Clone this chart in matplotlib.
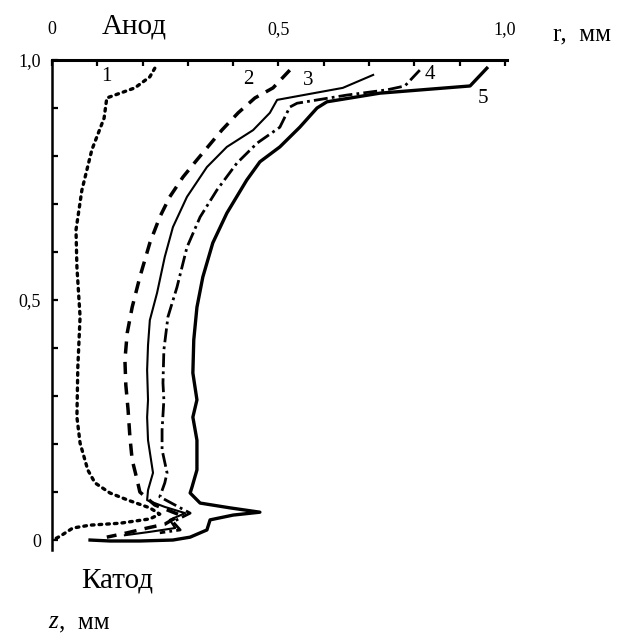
import numpy as np
import matplotlib.pyplot as plt
from matplotlib.ticker import MultipleLocator, FixedLocator

plt.rcParams['font.family'] = ['Liberation Serif', 'DejaVu Serif']

# профили радиуса канала r(z), мм (1..5)
r1 = [0.227, 0.216, 0.183, 0.121, 0.115, 0.088, 0.066, 0.053, 0.055, 0.062, 0.057, 0.055,
      0.062, 0.079, 0.095, 0.128, 0.168, 0.216, 0.238, 0.216, 0.150, 0.084, 0.046, 0.018, 0.002]
z1 = [0.983, 0.965, 0.942, 0.921, 0.879, 0.813, 0.729, 0.646, 0.569, 0.465, 0.360, 0.256,
      0.202, 0.146, 0.119, 0.098, 0.083, 0.067, 0.054, 0.044, 0.035, 0.031, 0.025, 0.008, 0.0]

r2 = [0.525, 0.488, 0.448, 0.411, 0.375, 0.320, 0.289, 0.260, 0.238, 0.216, 0.194, 0.177,
      0.166, 0.161, 0.163, 0.168, 0.172, 0.177, 0.188, 0.194, 0.227, 0.283, 0.249, 0.210,
      0.166, 0.121]
z2 = [0.979, 0.942, 0.921, 0.890, 0.854, 0.792, 0.756, 0.715, 0.673, 0.619, 0.548, 0.485,
      0.431, 0.375, 0.323, 0.271, 0.215, 0.167, 0.125, 0.100, 0.073, 0.052, 0.033, 0.025,
      0.015, 0.006]

r3 = [0.709, 0.642, 0.497, 0.481, 0.444, 0.386, 0.342, 0.298, 0.267, 0.249, 0.232, 0.216,
      0.212, 0.210, 0.212, 0.210, 0.212, 0.223, 0.212, 0.210, 0.249, 0.294, 0.260, 0.272,
      0.216, 0.161]
z3 = [0.969, 0.942, 0.917, 0.890, 0.854, 0.819, 0.777, 0.715, 0.652, 0.590, 0.515, 0.458,
      0.406, 0.354, 0.292, 0.256, 0.208, 0.140, 0.104, 0.083, 0.069, 0.056, 0.042, 0.025,
      0.017, 0.010]

r4 = [0.812, 0.779, 0.740, 0.651, 0.541, 0.525, 0.503, 0.453, 0.408, 0.364, 0.327, 0.298,
      0.276, 0.256, 0.247, 0.245, 0.247, 0.243, 0.243, 0.254, 0.249, 0.238, 0.305, 0.267,
      0.283, 0.238]
z4 = [0.979, 0.946, 0.938, 0.927, 0.910, 0.902, 0.860, 0.827, 0.785, 0.729, 0.673, 0.610,
      0.527, 0.465, 0.396, 0.327, 0.292, 0.229, 0.188, 0.140, 0.119, 0.090, 0.056, 0.038,
      0.021, 0.015]

r5 = [0.960, 0.923, 0.724, 0.607, 0.585, 0.547, 0.503, 0.459, 0.430, 0.386, 0.355, 0.333,
      0.320, 0.313, 0.311, 0.320, 0.311, 0.320, 0.320, 0.309, 0.305, 0.327, 0.393, 0.459,
      0.400, 0.349, 0.342, 0.305, 0.267, 0.194, 0.128, 0.084]
z5 = [0.983, 0.946, 0.931, 0.913, 0.900, 0.860, 0.819, 0.788, 0.750, 0.681, 0.619, 0.548,
      0.485, 0.417, 0.348, 0.292, 0.256, 0.208, 0.146, 0.110, 0.098, 0.077, 0.067, 0.058,
      0.052, 0.042, 0.021, 0.006, 0.0, -0.002, -0.002, 0.0]

fig = plt.figure(figsize=(6.31, 6.36), dpi=100)
ax = fig.add_axes([0.0824, 0.1352, 0.721, 0.7704])

ax.plot(r1, z1, color='black', lw=2.4, linestyle=(0, (0.8, 1.5)), dash_capstyle='round')
ax.plot(r2, z2, color='black', lw=2.5, linestyle=(0, (3.5, 2.4)))
ax.plot(r3, z3, color='black', lw=1.5)
ax.plot(r4, z4, color='black', lw=2.0, linestyle=(0, (5, 1.5, 1, 1.5)))
ax.plot(r5, z5, color='black', lw=2.4)

ax.set_xlim(0, 1.0044)
ax.set_ylim(-0.0208, 1.0)

ax.spines['right'].set_visible(False)
ax.spines['bottom'].set_visible(False)
ax.spines['top'].set_linewidth(2.2)
ax.spines['left'].set_linewidth(1.8)

ax.xaxis.tick_top()
ax.xaxis.set_major_locator(FixedLocator([0, 0.5, 1.0]))
ax.xaxis.set_minor_locator(MultipleLocator(0.1))
ax.set_xticklabels(['0', '0,5', '1,0'])
ax.yaxis.set_major_locator(FixedLocator([0, 0.5, 1.0]))
ax.yaxis.set_minor_locator(MultipleLocator(0.1))
ax.set_yticklabels(['0', '0,5', '1,0'])
ax.tick_params(axis='x', which='both', direction='in', length=4.5, width=1.6,
               labelsize=13, pad=16)
ax.tick_params(axis='y', which='both', direction='in', length=4.5, width=1.6,
               labelsize=13, pad=8)

# номера кривых
for txt, x, y in [('1', 0.121, 0.965), ('2', 0.433, 0.960), ('3', 0.565, 0.958),
                  ('4', 0.835, 0.970), ('5', 0.952, 0.920)]:
    ax.text(x, y, txt, fontsize=15, ha='center', va='center')

fig.text(0.212, 0.948, 'Анод', fontsize=21, ha='center', va='baseline')
fig.text(0.185, 0.0755, 'Катод', fontsize=21, ha='center', va='baseline')
fig.text(0.876, 0.937, 'r,  мм', fontsize=18, ha='left', va='baseline')
fig.text(0.076, 0.012, 'z', fontsize=18, style='italic', ha='left', va='baseline')
fig.text(0.093, 0.012, ',  мм', fontsize=18, ha='left', va='baseline')

fig.savefig('out.png', dpi=100)
